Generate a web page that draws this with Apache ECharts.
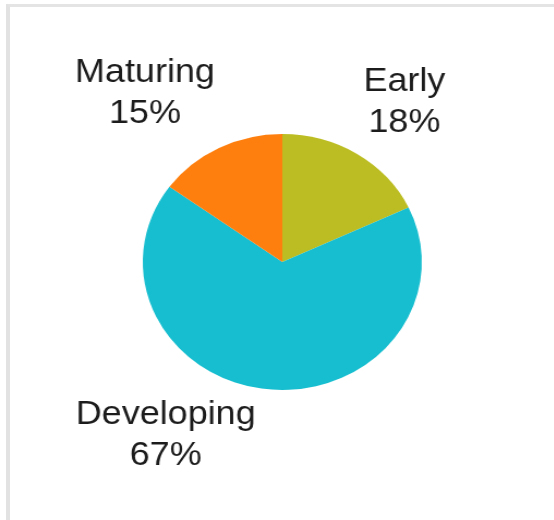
<!DOCTYPE html>
<html>
<head>
<meta charset="utf-8">
<script src="https://cdn.jsdelivr.net/npm/echarts@6/dist/echarts.min.js"></script>
<style>
    html, body {
        margin: 0;
        padding: 0;
        background: #fff;
        overflow: hidden;
    }
    .frame {
        position: absolute;
        left: 6px;
        top: 4px;
        width: 600px;
        height: 514px;
        border-left: 4px solid #e2e2e2;
        border-top: 3px solid #e4e4e4;
        border-bottom: 1px solid #efefef;
    }
    /* the source picture is a little wider than tall, so stretch it */
    #pieChart {
        position: absolute;
        left: 0;
        top: 0;
        width: 508px;
        height: 520px;
        transform: scaleX(1.09);
        transform-origin: 0 0;
    }
</style>
</head>
<body>
<div class="frame"></div>
<div id="pieChart"></div>
<script>
    // data
    var stages = ['Early', 'Developing', 'Maturing'];
    var shares = [18, 67, 15];
    var colors = ['#bcbd22', '#17becf', '#ff7f0e'];

    // where each label block sits (chart px, before the stretch)
    var labelPos = {
        Early: [371, 102],
        Developing: [152, 435],
        Maturing: [133, 93]
    };

    var pieData = stages.map(function (name, i) {
        return {name: name, value: shares[i], itemStyle: {color: colors[i]}};
    });

    var myChart = echarts.init(document.getElementById('pieChart'));
    myChart.setOption({
        animation: false,
        series: [{
            type: 'pie',
            center: [259, 262],
            radius: [0, 128],
            startAngle: 90,
            clockwise: true,
            silent: true,
            data: pieData,
            itemStyle: {borderWidth: 0},
            label: {
                show: true,
                position: 'outside',
                formatter: '{b}\n{c}%',
                fontFamily: 'Liberation Sans, Arial, sans-serif',
                fontSize: 33,
                lineHeight: 41,
                color: '#1c1c1c',
                align: 'center'
            },
            labelLine: {show: false},
            labelLayout: function (params) {
                var p = labelPos[stages[params.dataIndex]];
                return {
                    x: p[0],
                    y: p[1],
                    align: 'center',
                    verticalAlign: 'middle'
                };
            }
        }]
    });
</script>
</body>
</html>
